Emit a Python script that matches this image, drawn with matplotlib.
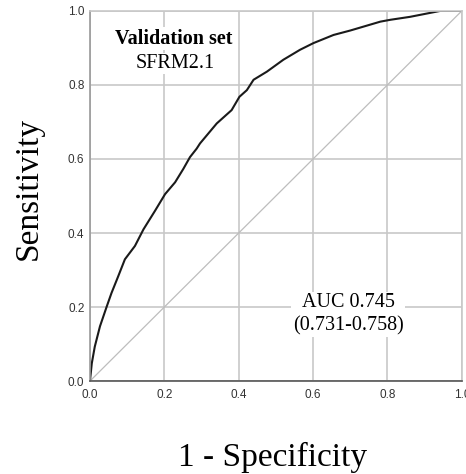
import matplotlib
matplotlib.use('Agg')
import matplotlib.pyplot as plt

# ROC curve points (1 - specificity, sensitivity)
fpr = [0.0, 0.005, 0.013, 0.027, 0.045, 0.058, 0.076, 0.094, 0.121, 0.144,
       0.175, 0.202, 0.229, 0.251, 0.269, 0.287, 0.296, 0.341, 0.381, 0.402,
       0.422, 0.44, 0.476, 0.52, 0.565, 0.601, 0.655, 0.7, 0.781, 0.808,
       0.861, 0.942, 1.0]
tpr = [0.0, 0.048, 0.093, 0.148, 0.201, 0.238, 0.283, 0.329, 0.365, 0.41,
       0.46, 0.505, 0.537, 0.573, 0.605, 0.628, 0.642, 0.696, 0.732, 0.768,
       0.786, 0.814, 0.836, 0.868, 0.895, 0.913, 0.935, 0.947, 0.971, 0.976,
       0.984, 1.0, 1.0]
ticks = [0.0, 0.2, 0.4, 0.6, 0.8, 1.0]
title_1 = 'Validation set'
title_2 = 'SFRM2.1'
auc_txt = 'AUC 0.745\n(0.731-0.758)'

fig = plt.figure(figsize=(4.66, 4.74), dpi=100)
ax = fig.add_axes([0.193, 0.196, 0.798, 0.781])

ax.grid(color='#c8c8c8', linewidth=1.2)
ax.set_axisbelow(True)
ax.plot([0, 1], [0, 1], color='#bdbdbd', linewidth=0.9)
ax.plot(fpr, tpr, color='#1a1a1a', linewidth=1.5)

ax.set_xlim(0, 1)
ax.set_ylim(0, 1)
ax.set_xticks(ticks)
ax.set_yticks(ticks)
ax.set_xticklabels([f'{t:.1f}' for t in ticks])
ax.set_yticklabels([f'{t:.1f}' for t in ticks])
ax.tick_params(length=0, labelsize=8.5, labelcolor='#333333')
ax.tick_params(axis='x', pad=6)
ax.tick_params(axis='y', pad=4)
for lab in ax.get_xticklabels() + ax.get_yticklabels():
    lab.set_family('Liberation Sans')

for side in ['top', 'right']:
    ax.spines[side].set_color('#c8c8c8')
ax.spines['left'].set_color('#999999')
ax.spines['bottom'].set_color('#555555')
for s in ax.spines.values():
    s.set_linewidth(1.2)

serif = 'Liberation Serif'
box = dict(facecolor='white', edgecolor='none', pad=1)
ax.text(0.225, 0.925, title_1, transform=ax.transAxes, ha='center', va='center',
        family=serif, fontweight='bold', fontsize=14.5, bbox=box)
ax.text(0.228, 0.858, title_2, transform=ax.transAxes, ha='center', va='center',
        family=serif, fontsize=14.5, bbox=box)
ax.text(0.694, 0.18, auc_txt, transform=ax.transAxes, ha='center', va='center',
        family=serif, fontsize=14.5, linespacing=1.3, bbox=box)

fig.text(273 / 466, 1 - 457 / 474, '1 - Specificity', family=serif, fontsize=24,
         ha='center', va='center')
fig.text(29 / 466, 1 - 188 / 474, 'Sensitivity', family=serif, fontsize=24,
         ha='center', va='center', rotation=90)

fig.savefig('out.png', dpi=100)
